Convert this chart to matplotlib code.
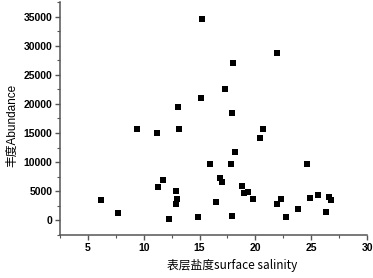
import numpy as np
import matplotlib
matplotlib.use("Agg")
from matplotlib import pyplot as plt
from matplotlib.ticker import MultipleLocator

# surface salinity vs abundance
salinity = [9.4, 11.2, 13.1, 13.2, 15.2, 21.9, 18.0, 17.3, 15.1, 17.9,
            20.7, 20.4, 18.2, 15.9, 17.8, 24.6, 16.8, 17.0, 18.8, 19.0,
            19.3, 19.8, 16.5, 21.9, 22.3, 22.7, 14.9, 17.9, 23.8, 24.9,
            25.6, 26.6, 26.8, 26.3, 6.2, 7.7, 11.3, 11.7, 12.9, 12.9,
            13.0, 12.3]
abundance = [15600, 15000, 19500, 15700, 34500, 28800, 27100, 22500, 21000, 18400,
             15600, 14200, 11800, 9600, 9600, 9600, 7200, 6500, 5900, 4700,
             4900, 3600, 3100, 2800, 3700, 500, 500, 700, 1900, 3800,
             4350, 4000, 3450, 1400, 3450, 1300, 5700, 7000, 5100, 2800,
             3700, 300]

AXIS = "#555555"

fig = plt.figure(figsize=(3.73, 2.78), dpi=100)
ax = fig.add_axes([0.161, 0.155, 0.823, 0.838])

ax.scatter(salinity, abundance, marker="s", s=22, color="black", linewidths=0, zorder=3)

ax.set_xlim(2.5, 30)
ax.set_ylim(-2500, 37500)
ax.xaxis.set_minor_locator(MultipleLocator(2.5))
ax.yaxis.set_minor_locator(MultipleLocator(2500))
ax.set_xticks([5, 10, 15, 20, 25, 30])
ax.set_yticks([0, 5000, 10000, 15000, 20000, 25000, 30000, 35000])

for side in ["top", "right"]:
    ax.spines[side].set_visible(False)
for side in ["left", "bottom"]:
    ax.spines[side].set_color(AXIS)
    ax.spines[side].set_linewidth(1.1)

ax.tick_params(which="major", direction="out", length=3.5, width=1.0, color=AXIS,
               labelsize=7.5, pad=2)
ax.tick_params(which="minor", direction="out", length=2, width=0.8, color=AXIS)
for lab in ax.get_xticklabels() + ax.get_yticklabels():
    lab.set_family("Liberation Sans")
    lab.set_fontweight("bold")

ax.set_xlabel("表层盐度surface salinity", family=["Noto Sans CJK SC", "DejaVu Sans"],
              fontsize=8.5)
ax.xaxis.set_label_coords(0.56, -0.105)
ax.set_ylabel("丰度Abundance", family=["Liberation Sans", "Noto Sans CJK SC"],
              fontsize=8.5)
ax.yaxis.set_label_coords(-0.135, 0.47)

fig.savefig("out.png", dpi=100)
